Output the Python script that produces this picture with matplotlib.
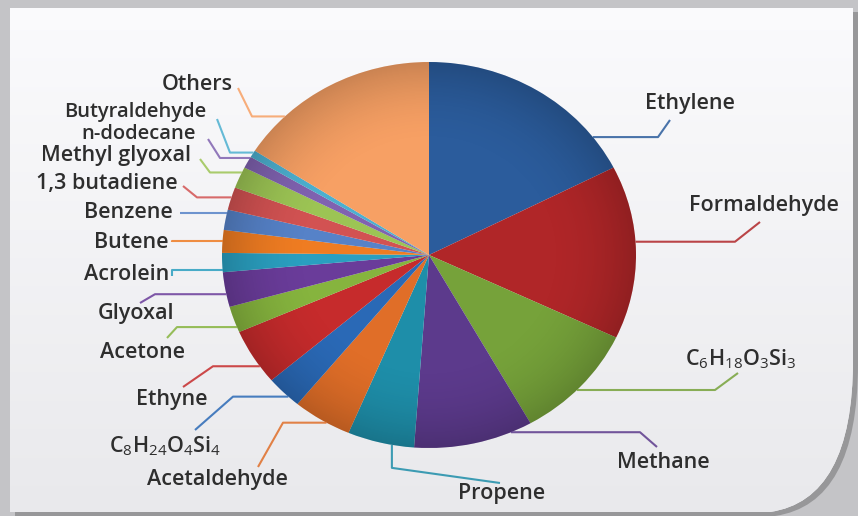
import numpy as np
import matplotlib
matplotlib.use("Agg")
import matplotlib.pyplot as plt
from matplotlib.path import Path
from matplotlib.patches import PathPatch, Circle

plt.rcParams['font.family'] = ['Open Sans', 'DejaVu Sans']
plt.rcParams['mathtext.fontset'] = 'custom'
plt.rcParams['mathtext.rm'] = 'Open Sans'
plt.rcParams['mathtext.it'] = 'Open Sans'

# share of each compound (%), clockwise from 12 o'clock
compounds = ['Ethylene', 'Formaldehyde', 'C$_6$H$_{18}$O$_3$Si$_3$', 'Methane', 'Propene',
             'Acetaldehyde', 'C$_8$H$_{24}$O$_4$Si$_4$', 'Ethyne', 'Acetone', 'Glyoxal',
             'Acrolein', 'Butene', 'Benzene', '1,3 butadiene', 'Methyl glyoxal',
             'n-dodecane', 'Butyraldehyde', 'Others']
shares = [17.5, 14.5, 9.8, 9.3, 5.2, 4.6, 2.8, 4.7, 2.2, 2.9,
          1.6, 1.9, 1.7, 1.9, 1.8, 1.0, 0.6, 15.9]
colors = ['#2b5c9c', '#b02628', '#76a23a', '#5c3a8c', '#1e8ea9', '#e06e28',
          '#2a69b6', '#c62b2c', '#86b43e', '#6a3c9a', '#2a9fc0', '#ef7c22',
          '#5682c8', '#d25252', '#9cc454', '#8062b0', '#4cb0d0', '#f7a064']

# label layout in pixels: text x, text y, leader end x, end y, elbow x, anchor fraction in wedge
layout = {
    'Ethylene':      (690, 104, 670, 120, 658, 0.17),
    'Formaldehyde':  (764, 206, 760, 222, 735, 0.56),
    'C6':            (741, 359, 738, 373, 715, 0.46),
    'Methane':       (663, 463, 657, 447, 640, 0.82),
    'Propene':       (502, 494, 500, 483, None, 0.67),
    'Acetaldehyde':  (217, 480, 258, 467, 283, 0.59),
    'C8':            (165, 446, 195, 430, 233, 0.67),
    'Ethyne':        (172, 399, 183, 387, 213, 0.69),
    'Acetone':       (142, 352, 167, 338, 177, 0.80),
    'Glyoxal':       (136, 313, 140, 303, 155, 0.63),
    'Acrolein':      (127, 275, 172, 276, 172, 0.90),
    'Butene':        (131, 242, 172, 242, 172, 0.50),
    'Benzene':       (128, 212, 180, 213, 180, 0.15),
    '1,3 butadiene': (107, 183, 183, 186, 197, 0.45),
    'Methyl glyoxal':(116, 155, 200, 159, 210, 0.25),
    'n-dodecane':    (139, 134, 208, 139, 220, 0.10),
    'Butyraldehyde': (135, 112, 217, 119, 230, 0.30),
    'Others':        (197, 85, 238, 88, 252, 0.77),
}
layout_keys = ['Ethylene', 'Formaldehyde', 'C6', 'Methane', 'Propene', 'Acetaldehyde',
               'C8', 'Ethyne', 'Acetone', 'Glyoxal', 'Acrolein', 'Butene', 'Benzene',
               '1,3 butadiene', 'Methyl glyoxal', 'n-dodecane', 'Butyraldehyde', 'Others']

W, H = 858, 516
fig = plt.figure(figsize=(W / 100, H / 100), dpi=100)
fig.patch.set_facecolor('#c4c4c7')

# background frame
bg = fig.add_axes([0, 0, 1, 1])
bg.set_xlim(0, W)
bg.set_ylim(H, 0)
bg.axis('off')

def panel_path(dx=0, dy=0):
    verts = [(10 + dx, 8 + dy), (853 + dx, 8 + dy), (853 + dx, 360 + dy),
             (853 + dx, 500 + dy), (770 + dx, 512 + dy), (10 + dx, 512 + dy), (10 + dx, 8 + dy)]
    codes = [Path.MOVETO, Path.LINETO, Path.LINETO, Path.CURVE3, Path.CURVE3,
             Path.LINETO, Path.CLOSEPOLY]
    return Path(verts, codes)

bg.add_patch(PathPatch(panel_path(5, 4), facecolor='#8c8c8e', edgecolor='none', alpha=0.8))
panel = PathPatch(panel_path(), facecolor='#f5f5f7', edgecolor='none')
bg.add_patch(panel)
grad = np.linspace(0, 1, 256).reshape(-1, 1)
im = bg.imshow(grad, extent=[0, W, H, 0], cmap=matplotlib.colors.LinearSegmentedColormap.from_list(
    'g', ['#fbfbfd', '#e9e9ec']), aspect='auto', zorder=1)
im.set_clip_path(panel)

# pie, slightly wider than tall as in the original
cx, cy, rx, ry = 429, 255, 207, 193
pie_ax = fig.add_axes([(cx - rx) / W, (H - cy - ry) / H, 2 * rx / W, 2 * ry / H])
wedges, _ = pie_ax.pie(shares, colors=colors, startangle=90, counterclock=False,
                       wedgeprops=dict(linewidth=0))
pie_ax.set_aspect('auto')

# soft shading towards the rim
g = np.linspace(-1, 1, 400)
gx, gy = np.meshgrid(g, g)
rr = np.sqrt(gx ** 2 + gy ** 2)
shade = np.zeros((400, 400, 4))
shade[..., 3] = np.clip((rr - 0.55) / 0.45, 0, 1) ** 2 * 0.18
sh = pie_ax.imshow(shade, extent=[-1, 1, -1, 1], aspect='auto', zorder=3)
sh.set_clip_path(Circle((0, 0), 1.0, transform=pie_ax.transData))
pie_ax.set_xlim(-1, 1)
pie_ax.set_ylim(-1, 1)

# labels and leader lines on an overlay in pixel coordinates
ov = fig.add_axes([0, 0, 1, 1])
ov.set_xlim(0, W)
ov.set_ylim(H, 0)
ov.axis('off')

for name, key, w, col in zip(compounds, layout_keys, wedges, colors):
    tx, ty, ex, ey, elbow, f = layout[key]
    ang = np.deg2rad(w.theta1 + f * (w.theta2 - w.theta1))
    px, py = pie_ax.transData.transform((np.cos(ang), np.sin(ang)))
    ax_, ay_ = px, H - py
    if elbow is None:
        pts = [(ax_, ay_), (ax_, ay_ + 23), (ex, ey)]
    else:
        pts = [(ax_, ay_), (elbow, ay_), (ex, ey)]
    xs, ys = zip(*pts)
    ov.plot(xs, ys, color=col, lw=1.5, alpha=0.85, solid_capstyle='butt')
    size = 14.5 if key in ('n-dodecane', 'Butyraldehyde') else 15.5
    ov.text(tx, ty, name, ha='center', va='center', fontsize=size, color='#2e2e2e',
            fontweight='semibold')

fig.savefig('out.png', dpi=100)
